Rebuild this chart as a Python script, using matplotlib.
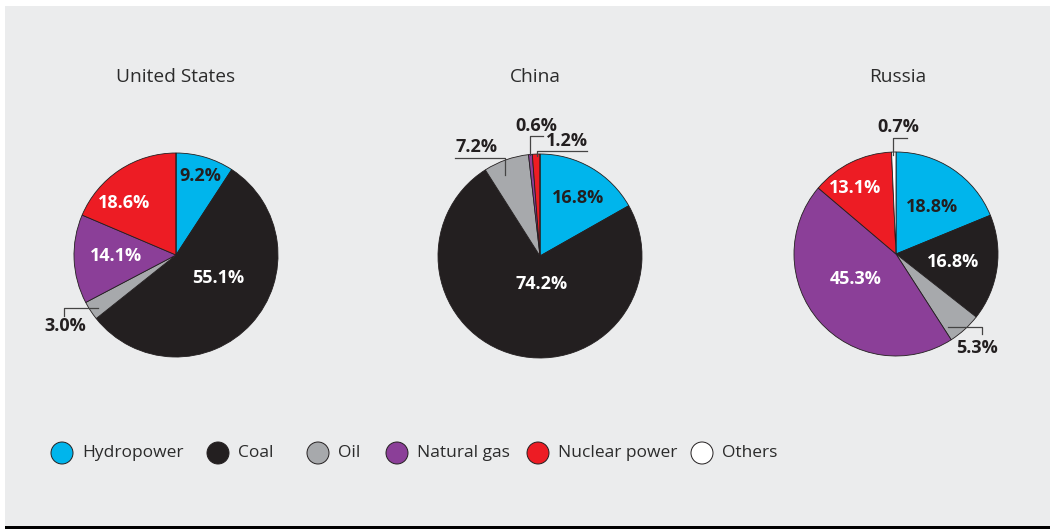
import numpy as np
import matplotlib
matplotlib.use("Agg")
import matplotlib.pyplot as plt
from matplotlib.patches import Rectangle, Circle

# Energy sources and colours
sources = ["Hydropower", "Coal", "Oil", "Natural gas", "Nuclear power", "Others"]
colors = ["#00b5ec", "#231f20", "#a7a9ac", "#8b3f98", "#ed1c24", "#ffffff"]

countries = ["United States", "China", "Russia"]
us_share = [9.2, 55.1, 3.0, 14.1, 18.6, 0.0]
china_share = [16.8, 74.2, 7.2, 0.6, 1.2, 0.0]
russia_share = [18.8, 16.8, 5.3, 45.3, 13.1, 0.7]
shares = [us_share, china_share, russia_share]

W, H = 1050, 529
dark = "#231f20"

# layout (pixel coords, y measured from top)
centers = [(176, 255), (540, 256), (896, 254)]
radius = 102
title_pos = [(176, 77), (535, 77), (898, 77)]

# label placement per slice: (dx, dy) offset from pie center, text colour
inside = [
    {0: (24, -79, dark), 1: (42, 23, "white"), 3: (-60, 1, "white"), 4: (-52, -52, "white")},
    {0: (38, -58, dark), 1: (2, 28, "white")},
    {0: (36, -47, dark), 1: (57, 8, "white"), 3: (-40, 25, "white"), 4: (-41, -66, "white")},
]
# outside labels: slice -> (text xy, leader line points)
outside = [
    {2: ((65, 326), [(98, 308), (64, 308), (64, 316)])},
    {2: ((476, 147), [(505, 175), (505, 158), (455, 158)]),
     3: ((536, 126), [(530, 155), (530, 136), (543, 136)]),
     4: ((567, 141), [(537, 156), (537, 151), (587, 151)])},
    {2: ((977, 348), [(948, 327), (982, 327), (982, 334)]),
     5: ((898, 127), [(893, 155), (893, 138), (907, 138)])},
]

plt.rcParams['font.family'] = ['Open Sans', 'DejaVu Sans']

fig = plt.figure(figsize=(W / 100, H / 100), dpi=100)
ax = fig.add_axes([0, 0, 1, 1])
ax.set_xlim(0, W)
ax.set_ylim(0, H)
ax.set_aspect("equal")
ax.axis("off")


def P(x, y):
    return x, H - y


ax.add_patch(Rectangle(P(5, 526), W - 5, 520, facecolor="#ebeced", edgecolor="none", zorder=0))
ax.add_patch(Rectangle(P(5, 529), W - 5, 3.5, facecolor="black", edgecolor="none", zorder=0))

for i, vals in enumerate(shares):
    cx, cy = centers[i]
    ax.pie(vals, colors=colors, startangle=90, counterclock=False,
           center=P(cx, cy), radius=radius,
           wedgeprops=dict(edgecolor=dark, linewidth=0.6))
    ax.text(*P(*title_pos[i]), countries[i], ha="center", va="center",
            fontsize=13.8, color="#2b2b2b")
    for k, (dx, dy, col) in inside[i].items():
        ax.text(*P(cx + dx, cy + dy), f"{vals[k]:.1f}%", ha="center", va="center",
                fontsize=13, fontweight="bold", color=col)
    for k, (xy, pts) in outside[i].items():
        ax.text(*P(*xy), f"{vals[k]:.1f}%", ha="center", va="center",
                fontsize=13, fontweight="bold", color=dark)
        px, py = zip(*[P(*p) for p in pts])
        ax.plot(px, py, color="#444444", linewidth=0.9, zorder=5)

# ax.pie resets limits
ax.set_xlim(0, W)
ax.set_ylim(0, H)

# legend
leg_x = [62, 218, 318, 397, 538, 702]
for x, name, c in zip(leg_x, sources, colors):
    ax.add_patch(Circle(P(x, 453), 11, facecolor=c, edgecolor=dark, linewidth=0.7))
    ax.text(*P(x + 20, 453), name, ha="left", va="center", fontsize=12.5, color="#2b2b2b")

fig.savefig("out.png", dpi=100)
